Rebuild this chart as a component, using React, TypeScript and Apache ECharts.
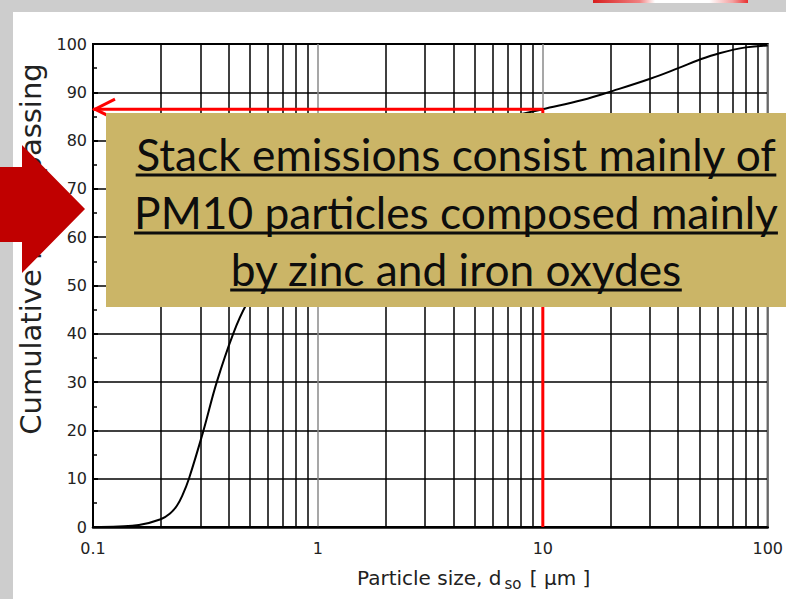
import React, { useEffect, useRef } from 'react';
import * as echarts from 'echarts';

// Particle size (µm) and cumulative mass passing (%)
const SIZE_UM = [0.1, 0.13, 0.16, 0.2, 0.22, 0.236, 0.25, 0.267, 0.31, 0.355, 0.42, 0.48, 0.6, 0.8, 1, 1.5, 2, 3, 5, 7, 10, 15, 20.5, 30, 40, 50, 61, 80, 100];
const PASSING = [0, 0.1, 0.4, 1.6, 2.8, 4.4, 6.6, 10, 20, 30, 40, 46, 53, 60, 64, 70, 74, 78, 82.5, 84.8, 86.5, 88.4, 90.3, 92.8, 95, 96.8, 98.1, 99.3, 99.7];

// Minor log gridlines (2..9 in each decade)
const X_MINOR_GRID = [0.2, 0.3, 0.4, 0.5, 0.6, 0.7, 0.8, 0.9, 2, 3, 4, 5, 6, 7, 8, 9, 20, 30, 40, 50, 60, 70, 80, 90];

// Reference lines (PM10)
const REF_SIZE = 10;
const REF_PASSING = 86.5;

const Y_NAME = 'Cumulative mass passing';
const NOTE_LINES = ['Stack emissions consist mainly of', 'PM10 particles composed mainly', 'by zinc and iron oxydes'];

const AXIS_FONT = 'DejaVu Sans';
const NOTE_FONT = 'Lato';

function measure(text: string, size: number, family: string) {
  const c = document.createElement('canvas').getContext('2d')!;
  c.font = `${size}px ${family}`;
  return c.measureText(text).width;
}

export default function App() {
  const ref = useRef<HTMLDivElement>(null);
  useEffect(() => {
    const el = ref.current!;
    const chart = echarts.init(el, null, { renderer: 'svg' });
    const curve = SIZE_UM.map((x, i) => [x, PASSING[i]]);
    const refLine = [[0.1, REF_PASSING], [REF_SIZE, REF_PASSING], [REF_SIZE, 0]];

    chart.setOption({
      animation: false,
      backgroundColor: '#cdcdcd',
      grid: { left: 93, right: 17, top: 44, bottom: 72, show: true, borderColor: '#000', borderWidth: 2, backgroundColor: '#fff' },
      xAxis: {
        type: 'log', logBase: 10, min: 0.1, max: 100,
        axisLine: { lineStyle: { color: '#000', width: 2.5 } },
        axisTick: { show: false },
        axisLabel: { fontFamily: AXIS_FONT, fontSize: 16, color: '#222', margin: 13, formatter: (v: number) => String(+v.toPrecision(3)) },
        splitLine: { show: true, lineStyle: { color: '#8a8a8a', width: 1.5 } },
      },
      yAxis: {
        type: 'value', min: 0, max: 100, interval: 10,
        axisLine: { show: true, lineStyle: { color: '#000', width: 2 } },
        axisTick: { show: true, inside: true, length: 5, lineStyle: { color: '#000', width: 2 } },
        minorTick: { show: true, splitNumber: 2, length: 4, lineStyle: { color: '#000', width: 1.5 } },
        axisLabel: { fontFamily: AXIS_FONT, fontSize: 16, color: '#222', margin: 6 },
        splitLine: { show: true, lineStyle: { color: '#000', width: 1.5 } },
      },
      series: [
        {
          type: 'line', data: curve, smooth: 0.4, symbol: 'none',
          lineStyle: { color: '#000', width: 2 }, z: 5,
          markLine: {
            silent: true, symbol: ['none', 'none'], label: { show: false },
            lineStyle: { color: '#000', width: 1.5, type: 'solid' },
            data: X_MINOR_GRID.map((v) => ({ xAxis: v })),
          },
        },
        {
          type: 'line', data: refLine, symbol: 'none',
          lineStyle: { color: '#ff0000', width: 3 }, z: 6,
        },
      ],
    });

    const tip = chart.convertToPixel({ gridIndex: 0 }, [0.1, REF_PASSING]) as number[];

    const w1 = measure(NOTE_LINES[0], 100, NOTE_FONT);
    const fs = (100 * 641) / w1;
    const cx = 456;
    const baselines = [168, 226, 283];

    const noteGraphics: any[] = [];
    NOTE_LINES.forEach((t, i) => {
      const w = measure(t, fs, NOTE_FONT);
      noteGraphics.push({
        type: 'text', z: 110,
        style: { text: t, x: cx, y: baselines[i] - fs * 0.33, fontFamily: NOTE_FONT, fontSize: fs, fill: '#0d0d0d', textAlign: 'center', textVerticalAlign: 'middle' },
      });
      noteGraphics.push({
        type: 'line', z: 110,
        shape: { x1: cx - w / 2, y1: baselines[i] + 7, x2: cx + w / 2, y2: baselines[i] + 7 },
        style: { stroke: '#0d0d0d', lineWidth: 3 },
      });
    });

    chart.setOption({
      graphic: [
        { type: 'rect', z: -100, shape: { x: 13, y: 12, width: 786, height: 599 }, style: { fill: '#fff' } },
        {
          type: 'rect', z: 50, shape: { x: 593, y: 0, width: 155, height: 3 },
          style: {
            fill: new echarts.graphic.LinearGradient(0, 0, 1, 0, [
              { offset: 0, color: '#d81e1e' }, { offset: 0.3, color: '#f08080' }, { offset: 0.4, color: '#ffffff' },
              { offset: 0.75, color: '#ffffff' }, { offset: 0.9, color: '#f4a0a0' }, { offset: 1, color: '#e83030' },
            ]),
          },
        },
        {
          type: 'polyline', z: 60,
          shape: { points: [[tip[0] + 22, tip[1] - 10], [tip[0] + 2, tip[1]], [tip[0] + 22, tip[1] + 10]] },
          style: { stroke: '#ff0000', lineWidth: 3, fill: 'none' },
        },
        {
          type: 'text', z: 60, x: 31, y: 249, rotation: Math.PI / 2,
          style: { text: Y_NAME, fontFamily: AXIS_FONT, fontSize: 29, fill: '#222', textAlign: 'center', textVerticalAlign: 'middle' },
        },
        {
          type: 'text', z: 60,
          style: {
            text: 'Particle size, {d|d}{s|so} [ µm ]', x: 357, y: 578, fontFamily: AXIS_FONT, fontSize: 20, fill: '#222',
            textAlign: 'left', textVerticalAlign: 'middle',
            rich: {
              d: { fontFamily: AXIS_FONT, fontSize: 20, fill: '#222' },
              s: { fontFamily: AXIS_FONT, fontSize: 15, fill: '#222', padding: [12, 2, 0, 3] },
            },
          },
        },
        { type: 'rect', z: 100, shape: { x: 106, y: 113, width: 680, height: 194 }, style: { fill: '#cbb567' } },
        ...noteGraphics,
        {
          type: 'polygon', z: 120,
          shape: { points: [[0, 167], [22, 167], [22, 145], [85, 209], [22, 273], [22, 242], [0, 242]] },
          style: { fill: '#c00000' },
        },
      ],
    });

    return () => chart.dispose();
  }, []);
  return <div ref={ref} style={{ position: 'fixed', left: 0, top: 0, width: 786, height: 599 }} />;
}
